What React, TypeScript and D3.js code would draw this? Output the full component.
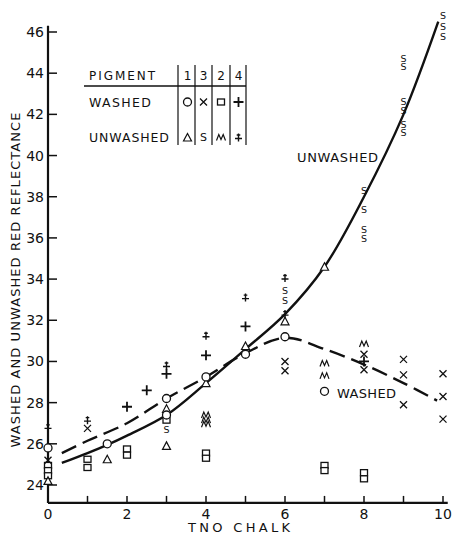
import { useRef, useEffect } from "react";
import * as d3 from "d3";

const xTicks = [0, 1, 2, 3, 4, 5, 6, 7, 8, 9, 10];
const xTickLabels = [0, 2, 4, 6, 8, 10];
const yTickLabels = [24, 26, 28, 30, 32, 34, 36, 38, 40, 42, 44, 46];

// washed pigments
const washed1 = [[0, 25.8], [1.5, 26.0], [3, 28.2], [3, 27.4], [4, 29.25], [5, 30.35], [6, 31.2], [7, 28.55]];
const washed3 = [[0, 25.2], [1, 26.75], [6, 30.0], [6, 29.55], [8, 30.35], [8, 29.6], [9, 30.1], [9, 29.35], [9, 27.9], [10, 29.4], [10, 28.3], [10, 27.2]];
const washed2 = [[0, 24.95], [0, 24.7], [0, 24.45], [1, 25.25], [1, 24.85], [2, 25.75], [2, 25.45], [3, 27.15], [4, 25.55], [4, 25.3], [7, 24.95], [7, 24.7], [8, 24.6], [8, 24.3]];
const washed4 = [[2, 27.8], [2.5, 28.6], [3, 29.4], [4, 30.3], [5, 31.7], [8, 30.0]];

// unwashed pigments
const unwashed1 = [[0, 24.2], [1.5, 25.25], [3, 27.7], [3, 25.9], [4, 28.95], [5, 30.75], [6, 31.95], [7, 34.6]];
const unwashed3 = [[3, 26.7], [6, 33.45], [6, 32.95], [8, 38.3], [8, 37.4], [8, 36.4], [8, 35.95], [9, 44.7], [9, 44.3], [9, 42.6], [9, 42.2], [9, 41.5], [9, 41.1], [10, 46.8], [10, 46.25], [10, 45.8]];
const unwashed2 = [[4, 27.4], [4, 27.15], [4, 26.95], [7, 29.9], [7, 29.3], [8, 30.85]];
const unwashed4 = [[0, 26.8], [1, 27.15], [3, 29.8], [4, 31.25], [5, 33.1], [6, 34.05], [6, 32.3]];

// fitted curves
const unwashedCurve = [[0.35, 25.07], [1, 25.55], [1.5, 25.95], [2, 26.4], [3, 27.4], [4, 28.95], [5, 30.6], [6, 32.3], [7, 34.6], [8, 38.0], [9, 42.0], [9.88, 46.5]];
const washedCurve = [[0.35, 25.55], [1, 26.15], [2, 27.0], [3, 28.2], [4, 29.25], [5, 30.4], [6, 31.15], [7, 30.6], [8, 29.85], [9, 28.95], [9.85, 28.1]];

const legendPigments = ["1", "3", "2", "4"];
const legendKinds = ["circle", "x", "square", "plus"];
const legendKindsUn = ["triangle", "S", "M", "dplus"];

const FONT = "DejaVu Sans, sans-serif";
const INK = "#111";

function drawMark(g, kind, cx, cy, big = false) {
  const s = g.append("g").attr("transform", `translate(${cx},${cy})`);
  if (kind === "circle") {
    s.append("circle").attr("r", 4).attr("fill", "#fff").attr("stroke", INK).attr("stroke-width", 1.3);
  } else if (kind === "x") {
    s.append("path").attr("d", "M-3.5,-3.5L3.5,3.5M3.5,-3.5L-3.5,3.5").attr("stroke", INK).attr("stroke-width", 1.3);
  } else if (kind === "square") {
    s.append("rect").attr("x", -3.5).attr("y", -3).attr("width", 7).attr("height", 6)
      .attr("fill", "#fff").attr("stroke", INK).attr("stroke-width", 1.3);
  } else if (kind === "plus") {
    s.append("path").attr("d", "M-5,0L5,0M0,-5L0,5").attr("stroke", INK).attr("stroke-width", 1.8);
  } else if (kind === "dplus") {
    s.append("path").attr("d", "M-3.5,1L3.5,1M0,-4L0,4M-1.8,-2.5L1.8,-2.5").attr("stroke", INK).attr("stroke-width", 1.4);
  } else if (kind === "triangle") {
    s.append("path").attr("d", "M0,-4L4,3.5L-4,3.5Z").attr("fill", "#fff").attr("stroke", INK).attr("stroke-width", 1.2);
  } else if (kind === "M") {
    s.append("path").attr("d", "M-4.5,3L-2.2,-3L0,2L2.2,-3L4.5,3").attr("fill", "none").attr("stroke", INK).attr("stroke-width", 1.2);
  } else if (kind === "S") {
    s.append("text").attr("text-anchor", "middle").attr("dy", "0.36em")
      .attr("font-family", FONT).attr("font-size", big ? 11 : 9.5).attr("fill", INK).text("S");
  }
}

const App = () => {
  const ref = useRef(null);

  useEffect(() => {
    document.body.style.margin = "0";
    const width = 452;
    const height = 534;

    const svg = d3.select(ref.current).html("")
      .append("svg").attr("width", width).attr("height", height)
      .style("background", "#fff").style("display", "block");

    const x = d3.scaleLinear().domain([0, 10]).range([48, 443]);
    const y = d3.scaleLinear().domain([24, 46]).range([485, 32]);

    // axes
    svg.append("line").attr("x1", x(0)).attr("x2", x(10.12)).attr("y1", y(23.13)).attr("y2", y(23.13))
      .attr("stroke", INK).attr("stroke-width", 2.2);
    svg.append("line").attr("x1", x(0)).attr("x2", x(0)).attr("y1", y(23.13)).attr("y2", y(46.3))
      .attr("stroke", INK).attr("stroke-width", 2.2);

    svg.selectAll(".xt").data(xTicks).enter().append("line")
      .attr("x1", (d) => x(d)).attr("x2", (d) => x(d))
      .attr("y1", y(23.13)).attr("y2", y(23.13) - 7)
      .attr("stroke", INK).attr("stroke-width", 1.5);
    svg.selectAll(".xl").data(xTickLabels).enter().append("text")
      .attr("x", (d) => x(d)).attr("y", 519).attr("text-anchor", "middle")
      .attr("font-family", FONT).attr("font-size", 14).attr("fill", INK).text((d) => d);

    svg.selectAll(".yt").data(yTickLabels).enter().append("line")
      .attr("x1", x(0)).attr("x2", x(0) + 9)
      .attr("y1", (d) => y(d)).attr("y2", (d) => y(d))
      .attr("stroke", INK).attr("stroke-width", 1.5);
    svg.selectAll(".yl").data(yTickLabels).enter().append("text")
      .attr("x", 44).attr("y", (d) => y(d) + 5).attr("text-anchor", "end")
      .attr("font-family", FONT).attr("font-size", 14).attr("fill", INK).text((d) => d);

    // axis titles
    svg.append("text").attr("transform", "translate(20,280) rotate(-90)")
      .attr("text-anchor", "middle").attr("font-family", FONT).attr("font-size", 13)
      .attr("textLength", 335).attr("lengthAdjust", "spacing").attr("fill", INK)
      .text("WASHED AND UNWASHED RED REFLECTANCE");
    svg.append("text").attr("x", 188).attr("y", 532)
      .attr("font-family", FONT).attr("font-size", 13)
      .attr("textLength", 102).attr("lengthAdjust", "spacing").attr("fill", INK)
      .text("TNO CHALK");

    // curves
    const line = d3.line().x((d) => x(d[0])).y((d) => y(d[1])).curve(d3.curveCatmullRom);
    svg.append("path").attr("d", line(unwashedCurve)).attr("fill", "none")
      .attr("stroke", INK).attr("stroke-width", 2.4);
    svg.append("path").attr("d", line(washedCurve)).attr("fill", "none")
      .attr("stroke", INK).attr("stroke-width", 2.4).attr("stroke-dasharray", "16,7");

    // points
    const pts = svg.append("g");
    const series = [
      [washed2, "square"], [unwashed1, "triangle"], [washed1, "circle"], [washed3, "x"],
      [washed4, "plus"], [unwashed3, "S"], [unwashed2, "M"], [unwashed4, "dplus"],
    ];
    series.forEach(([arr, kind]) => {
      arr.forEach((d) => drawMark(pts, kind, x(d[0]), y(d[1])));
    });

    // curve labels
    svg.append("text").attr("x", 297).attr("y", 162).attr("font-family", FONT).attr("font-size", 13)
      .attr("textLength", 81).attr("lengthAdjust", "spacing").attr("fill", INK).text("UNWASHED");
    svg.append("rect").attr("x", 334).attr("y", 385).attr("width", 64).attr("height", 15).attr("fill", "#fff");
    svg.append("text").attr("x", 337).attr("y", 397.5).attr("font-family", FONT).attr("font-size", 13)
      .attr("textLength", 59).attr("lengthAdjust", "spacing").attr("fill", INK).text("WASHED");

    // legend table
    const leg = svg.append("g");
    const colX = [187.5, 203.5, 221, 238.5];
    const rules = [178, 195, 212, 230, 246];
    leg.append("line").attr("x1", 84).attr("x2", 246).attr("y1", 86).attr("y2", 86)
      .attr("stroke", INK).attr("stroke-width", 1.5);
    leg.selectAll(".vr").data(rules).enter().append("line")
      .attr("x1", (d) => d).attr("x2", (d) => d).attr("y1", 65).attr("y2", 145)
      .attr("stroke", INK).attr("stroke-width", 1.2);
    leg.append("text").attr("x", 89).attr("y", 79.5).attr("font-family", FONT).attr("font-size", 12)
      .attr("textLength", 66).attr("lengthAdjust", "spacing").attr("fill", INK).text("PIGMENT");
    leg.append("text").attr("x", 89).attr("y", 106.5).attr("font-family", FONT).attr("font-size", 12.5)
      .attr("textLength", 62).attr("lengthAdjust", "spacing").attr("fill", INK).text("WASHED");
    leg.append("text").attr("x", 89).attr("y", 142).attr("font-family", FONT).attr("font-size", 12.5)
      .attr("textLength", 80).attr("lengthAdjust", "spacing").attr("fill", INK).text("UNWASHED");
    legendPigments.forEach((p, i) => {
      leg.append("text").attr("x", colX[i]).attr("y", 79.5).attr("text-anchor", "middle")
        .attr("font-family", FONT).attr("font-size", 12).attr("fill", INK).text(p);
      drawMark(leg, legendKinds[i], colX[i], 102);
      drawMark(leg, legendKindsUn[i], colX[i], 137.5, true);
    });
  }, []);

  return <div ref={ref} />;
};

export default App;
